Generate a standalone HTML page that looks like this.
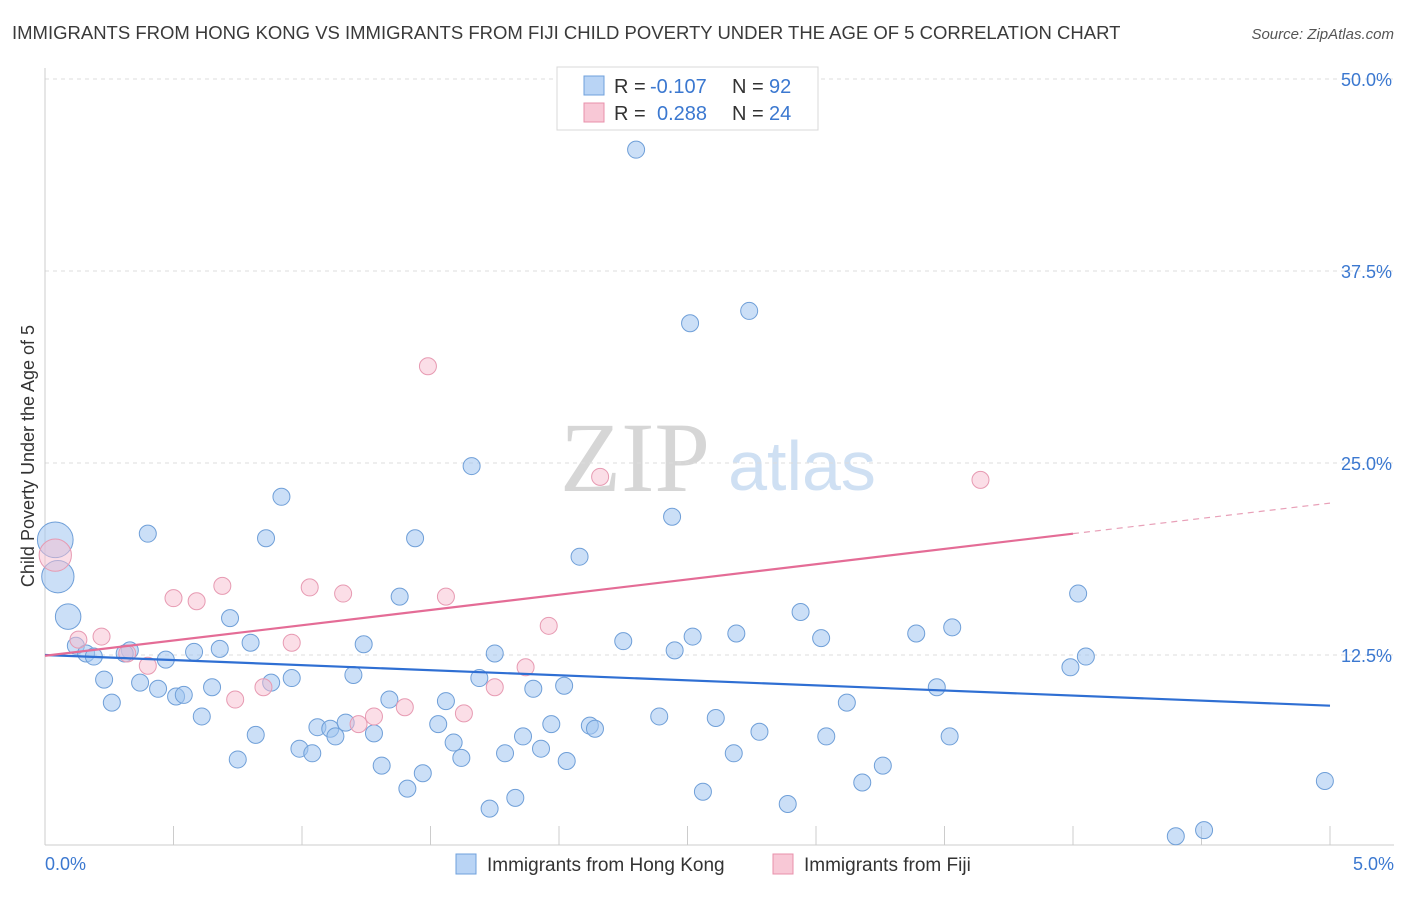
<!DOCTYPE html>
<html><head><meta charset="utf-8"><style>
body{margin:0;background:#fff;font-family:"Liberation Sans",sans-serif}
</style></head><body>
<svg id="chart" width="1406" height="892" viewBox="0 0 1406 892" xmlns="http://www.w3.org/2000/svg" font-family="Liberation Sans, sans-serif">
<text x="12" y="39" font-size="18.5" fill="#3a3a3a">IMMIGRANTS FROM HONG KONG VS IMMIGRANTS FROM FIJI CHILD POVERTY UNDER THE AGE OF 5 CORRELATION CHART</text>
<text x="1394" y="39" font-size="15" fill="#555" text-anchor="end" font-style="italic">Source: ZipAtlas.com</text>
<g>
<text x="635" y="491" font-size="100" fill="#d6d6d6" text-anchor="middle" style="font-family:'Liberation Serif',serif">ZIP</text>
<text x="802" y="490" font-size="70" fill="#cfe0f3" text-anchor="middle">atlas</text>
</g>
<g id="grid"></g>
<g id="axes"></g>
<g id="marks"></g>
<g>
<rect x="557" y="67" width="261" height="63" fill="#fff" stroke="#d8d8d8"/>
<rect x="584" y="76" width="20" height="19" fill="#b9d4f5" stroke="#6fa0dc"/>
<rect x="584" y="103" width="20" height="19" fill="#f8c8d6" stroke="#e890ab"/>
<text x="614" y="93" font-size="20" fill="#333">R =</text>
<text x="650" y="93" font-size="20" fill="#3b78d0">-0.107</text>
<text x="732" y="93" font-size="20" fill="#333">N =</text>
<text x="769" y="93" font-size="20" fill="#3b78d0">92</text>
<text x="614" y="120" font-size="20" fill="#333">R =</text>
<text x="657" y="120" font-size="20" fill="#3b78d0">0.288</text>
<text x="732" y="120" font-size="20" fill="#333">N =</text>
<text x="769" y="120" font-size="20" fill="#3b78d0">24</text>
</g>
<g>
<rect x="456" y="854" width="20" height="20" fill="#b9d4f5" stroke="#6fa0dc"/>
<text x="487" y="871" font-size="19" fill="#333">Immigrants from Hong Kong</text>
<rect x="773" y="854" width="20" height="20" fill="#f8c8d6" stroke="#e890ab"/>
<text x="804" y="871" font-size="19" fill="#333">Immigrants from Fiji</text>
</g>
<text transform="translate(34,456) rotate(-90)" font-size="18" fill="#333" text-anchor="middle">Child Poverty Under the Age of 5</text>
</svg>
<script>
const yTicks=[12.5,25,37.5,50];
const yTickLabels=["12.5%","25.0%","37.5%","50.0%"];
const xTickLabels=["0.0%","5.0%"];
const blueX=[2.30,2.51,2.74,1.66,2.44,0.92,0.40,0.86,1.44,2.08,0.04,0.05,0.09,1.38,0.72,2.94,4.02,3.53,3.39,3.02,2.69,2.52,2.25,2.45,1.75,1.24,0.80,0.68,0.58,0.33,0.12,0.16,0.19,0.31,0.47,0.23,0.37,0.44,0.51,0.54,0.65,0.88,0.96,1.20,1.69,1.90,2.02,3.47,4.05,3.99,0.26,0.61,1.34,1.56,3.12,2.39,2.61,1.06,1.11,1.17,1.28,1.53,1.97,2.12,2.14,2.78,3.04,3.52,0.82,1.13,1.86,1.59,0.99,1.04,1.93,1.79,1.62,2.03,2.68,0.75,1.31,1.47,3.26,3.18,1.41,2.56,1.83,1.73,2.89,4.98,4.40,4.51];
const blueY=[45.4,34.1,34.9,24.8,21.5,22.8,20.4,20.1,20.1,18.9,20.0,17.6,15.0,16.3,14.9,15.3,16.5,14.3,13.9,13.6,13.9,13.7,13.4,12.8,12.6,13.2,13.3,12.9,12.7,12.8,13.1,12.6,12.4,12.6,12.2,10.9,10.7,10.3,9.8,9.9,10.4,10.7,11.0,11.2,11.0,10.3,10.5,10.4,12.4,11.7,9.4,8.5,9.6,9.5,9.4,8.5,8.4,7.8,7.7,8.1,7.4,8.0,8.0,7.9,7.7,7.5,7.2,7.2,7.3,7.2,7.2,6.8,6.4,6.1,6.4,6.1,5.8,5.6,6.1,5.7,5.3,4.8,5.3,4.2,3.8,3.6,3.2,2.5,2.8,4.3,0.7,1.1];
const blueSize=[1,1,1,1,1,1,1,1,1,1,2.1,1.9,1.5];
const pinkX=[0.04,0.13,0.22,0.32,0.40,0.50,0.59,0.69,0.74,0.85,0.96,1.03,1.16,1.28,1.22,1.40,1.49,1.56,1.63,1.75,1.87,1.96,2.16,3.64];
const pinkY=[19.0,13.5,13.7,12.6,11.8,16.2,16.0,17.0,9.6,10.4,13.3,16.9,16.5,8.5,8.0,9.1,31.3,16.3,8.7,10.4,11.7,14.4,24.1,23.9];
const pinkSize=[1.9];
const blueTrend=[12.5,9.2];
const pinkTrend=[12.45,20.4];
const x0=45,x1=1330,yBase=847,yPer=192/12.5;
const X=v=>x0+(x1-x0)*v/5, Y=v=>yBase-v*yPer;
const NS="http://www.w3.org/2000/svg";
function mk(tag,attrs,parent){const e=document.createElementNS(NS,tag);for(const k in attrs)e.setAttribute(k,attrs[k]);document.getElementById(parent).appendChild(e);return e;}
yTicks.forEach((t,i)=>{
 const g=mk('line',{x1:45,x2:1394,y1:Y(t),y2:Y(t),stroke:'#dcdcdc','stroke-dasharray':'4,4'},'grid');
 
 
 const l=mk('text',{x:1392,y:Y(t)+7,'font-size':18,fill:'#3b78d0','text-anchor':'end'},'axes');
 l.textContent=yTickLabels[i];
 
 
});
const ax=mk('line',{x1:45,x2:1394,y1:845,y2:845,stroke:'#ccc'},'axes');


const ay=mk('line',{x1:45,x2:45,y1:68,y2:845,stroke:'#ccc'},'axes');


for(let i=0;i<=10;i++){
 const t=mk('line',{x1:X(i*0.5),x2:X(i*0.5),y1:826,y2:845,stroke:'#ccc'},'axes');
 
 
}
[[0,'start',45],[1,'end',1394]].forEach(([i,a,x])=>{
 const l=mk('text',{x:x,y:870,'font-size':18,fill:'#3b78d0','text-anchor':a},'axes');
 l.textContent=xTickLabels[i];
 
 
});
blueX.forEach((v,i)=>{
 const c=mk('circle',{cx:X(v),cy:Y(blueY[i]),r:8.5*(blueSize[i]||1),fill:'rgba(160,196,240,0.55)',stroke:'#6f9fd8','stroke-width':1},'marks');
 
 
});
pinkX.forEach((v,i)=>{
 const c=mk('circle',{cx:X(v),cy:Y(pinkY[i]),r:8.5*(pinkSize[i]||1),fill:'rgba(248,190,208,0.5)',stroke:'#e79ab2','stroke-width':1},'marks');
 
 
});
const bl=mk('line',{x1:X(0),y1:Y(blueTrend[0]),x2:X(5),y2:Y(blueTrend[1]),stroke:'#2f6fd3','stroke-width':2.2},'marks');


const slope=(pinkTrend[1]-pinkTrend[0])/4;
const pl=mk('line',{x1:X(0),y1:Y(pinkTrend[0]),x2:X(4),y2:Y(pinkTrend[1]),stroke:'#e46c96','stroke-width':2.2},'marks');


const pd=mk('line',{x1:X(4),y1:Y(pinkTrend[1]),x2:X(5),y2:Y(pinkTrend[0]+slope*5),stroke:'#e8a0b8','stroke-width':1.2,'stroke-dasharray':'6,5'},'marks');


</script>
</body></html>
